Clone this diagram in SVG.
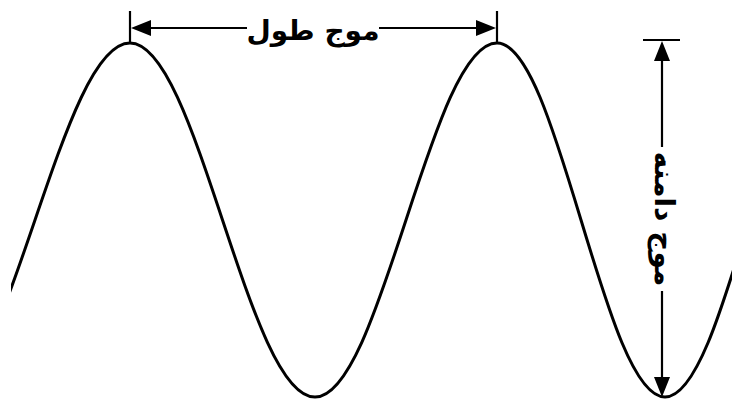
<svg xmlns="http://www.w3.org/2000/svg" width="732" height="400" viewBox="0 0 732 400">
  <style>
    .wave { fill: none; stroke: #000; stroke-width: 3; stroke-linecap: round; }
    .dim { fill: none; stroke: #000; stroke-width: 2.2; }
    .head { fill: #000; stroke: none; }
    .lbl { font-family: "DejaVu Sans", "Noto Sans", sans-serif; font-weight: bold; font-size: 28px; fill: #000; text-anchor: middle; }
  </style>
  <defs>
    <clipPath id="clip">
      <rect x="11" y="0" width="721" height="400"/>
    </clipPath>
  </defs>
  <rect width="732" height="400" fill="#fff"/>

  <g id="wave">
    <path class="wave" clip-path="url(#clip)" d="M -60 397 C -25.6 397 4 310.7 35 220 C 66 129.3 95.6 43 130 43 C 163.5 43 192.3 129.3 222.5 220 C 252.7 310.7 281.5 397 315 397 C 347.9 397 376.3 310.7 406 220 C 435.7 129.3 464.1 43 497 43 C 527.4 43 553.6 129.3 581 220 C 608.4 310.7 634.6 397 665 397 C 695.4 397 721.6 310.7 749 220"/>
  </g>

  <g id="connectors">
    <!-- wavelength -->
    <line class="dim" x1="130" y1="11" x2="130" y2="43"/>
    <line class="dim" x1="497" y1="11" x2="497" y2="43"/>
    <line class="dim" x1="140" y1="28" x2="247" y2="28"/>
    <line class="dim" x1="379" y1="28" x2="487" y2="28"/>
    <polygon class="head" points="131,28 151,20 151,36"/>
    <polygon class="head" points="496,28 476,20 476,36"/>
    <!-- amplitude -->
    <line class="dim" x1="643" y1="40" x2="680" y2="40"/>
    <line class="dim" x1="662" y1="55" x2="662" y2="147"/>
    <line class="dim" x1="662" y1="291" x2="662" y2="380"/>
    <polygon class="head" points="662,41 654,61 670,61"/>
    <polygon class="head" points="662,397 654,377 670,377"/>
  </g>

  <g id="label-wavelength">
    <text class="lbl" x="313" y="40">موج طول</text>
  </g>
  <g id="label-amplitude">
    <text class="lbl" transform="translate(660,219) rotate(90)" x="0" y="5">موج دامنه</text>
  </g>
</svg>
